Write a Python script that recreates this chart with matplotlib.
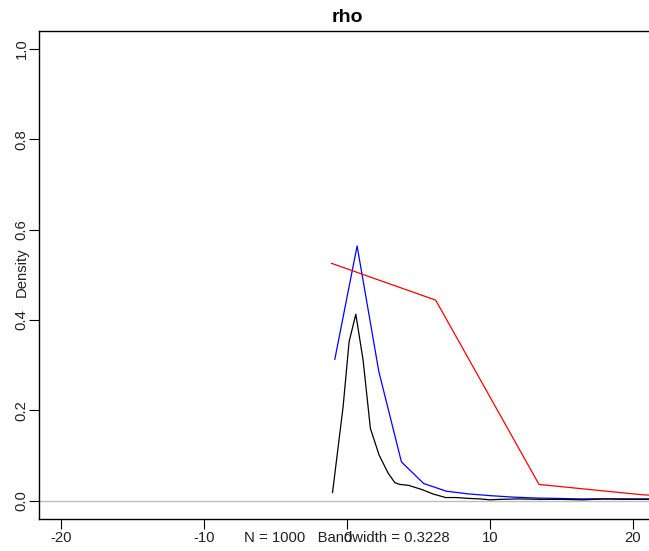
import matplotlib
matplotlib.use("Agg")
import matplotlib.pyplot as plt

plt.rcParams['font.family'] = ['Liberation Sans', 'DejaVu Sans']

# kernel density estimate of rho (black)
dens_x = [-1.02, -0.28, 0.14, 0.61, 1.12, 1.63, 2.24, 2.87, 3.34, 3.70, 4.30,
          5.30, 6.00, 6.90, 7.65, 8.58, 9.30, 10.0, 10.7, 12.0, 13.5, 15.0,
          16.5, 18.0, 19.5, 21.0, 22.5]
dens_y = [0.018, 0.208, 0.352, 0.413, 0.311, 0.160, 0.101, 0.061, 0.040, 0.036,
          0.034, 0.024, 0.015, 0.007, 0.007, 0.005, 0.004, 0.002, 0.003, 0.004,
          0.003, 0.003, 0.002, 0.004, 0.003, 0.003, 0.003]

# coarser estimate (blue)
blue_x = [-0.86, 0.70, 2.22, 3.80, 5.36, 6.95, 8.50, 10.1, 11.6, 13.2, 14.8,
          16.3, 17.9, 19.5, 21.1, 22.6]
blue_y = [0.313, 0.564, 0.286, 0.086, 0.038, 0.021, 0.015, 0.011, 0.008, 0.006,
          0.005, 0.004, 0.004, 0.004, 0.004, 0.003]

# very coarse estimate (red)
red_x = [-1.09, 6.20, 13.43, 20.70, 28.0]
red_y = [0.5255, 0.444, 0.036, 0.013, 0.005]

x_ticks = [-20, -10, 0, 10, 20]
y_ticks = [0.0, 0.2, 0.4, 0.6, 0.8, 1.0]
y_tick_labels = ["0.0", "0.2", "0.4", "0.6", "0.8", "1.0"]

W, H = 649, 551
fig = plt.figure(figsize=(W / 100, H / 100), dpi=100)
left, right, top, bottom = 38.7, 655.5, 30.7, 519.0
ax = fig.add_axes([left / W, 1 - bottom / H, (right - left) / W, (bottom - top) / H])

ax.axhline(0, color='#BEBEBE', lw=1.0, zorder=1)
ax.plot(dens_x, dens_y, color='black', lw=0.9, zorder=3)
ax.plot(blue_x, blue_y, color='#0000FF', lw=0.9, zorder=2)
ax.plot(red_x, red_y, color='#FF0000', lw=0.9, zorder=2)

ax.set_xlim(-21.58, 21.58)
ax.set_ylim(-0.0405, 1.0405)

ax.set_xticks(x_ticks)
ax.set_xticklabels([str(t) for t in x_ticks])
ax.set_yticks(y_ticks)
ax.set_yticklabels(y_tick_labels)

for s in ax.spines.values():
    s.set_linewidth(1.0)
    s.set_color('black')

ax.tick_params(axis='both', direction='out', length=7, width=0.8, colors='black',
               labelsize=10.7, labelcolor='#222222')
ax.tick_params(axis='x', pad=1.5)
ax.tick_params(axis='y', pad=5.3)
for lbl in ax.get_yticklabels():
    lbl.set_rotation(90)
    lbl.set_ha('center')
    lbl.set_va('center')

fig.text(21.5 / W, 1 - 272 / H, "Density", rotation=90, ha='center', va='center',
         fontsize=10.7, color='#222222')
fig.text(346.5 / W, 1 - 538 / H, "N = 1000   Bandwidth = 0.3228", ha='center',
         va='center', fontsize=10.7, color='#222222')
fig.text(347.0 / W, 1 - 17.3 / H, "rho", ha='center', va='center',
         fontsize=14, fontweight='bold')

fig.savefig("out.png", dpi=100)
